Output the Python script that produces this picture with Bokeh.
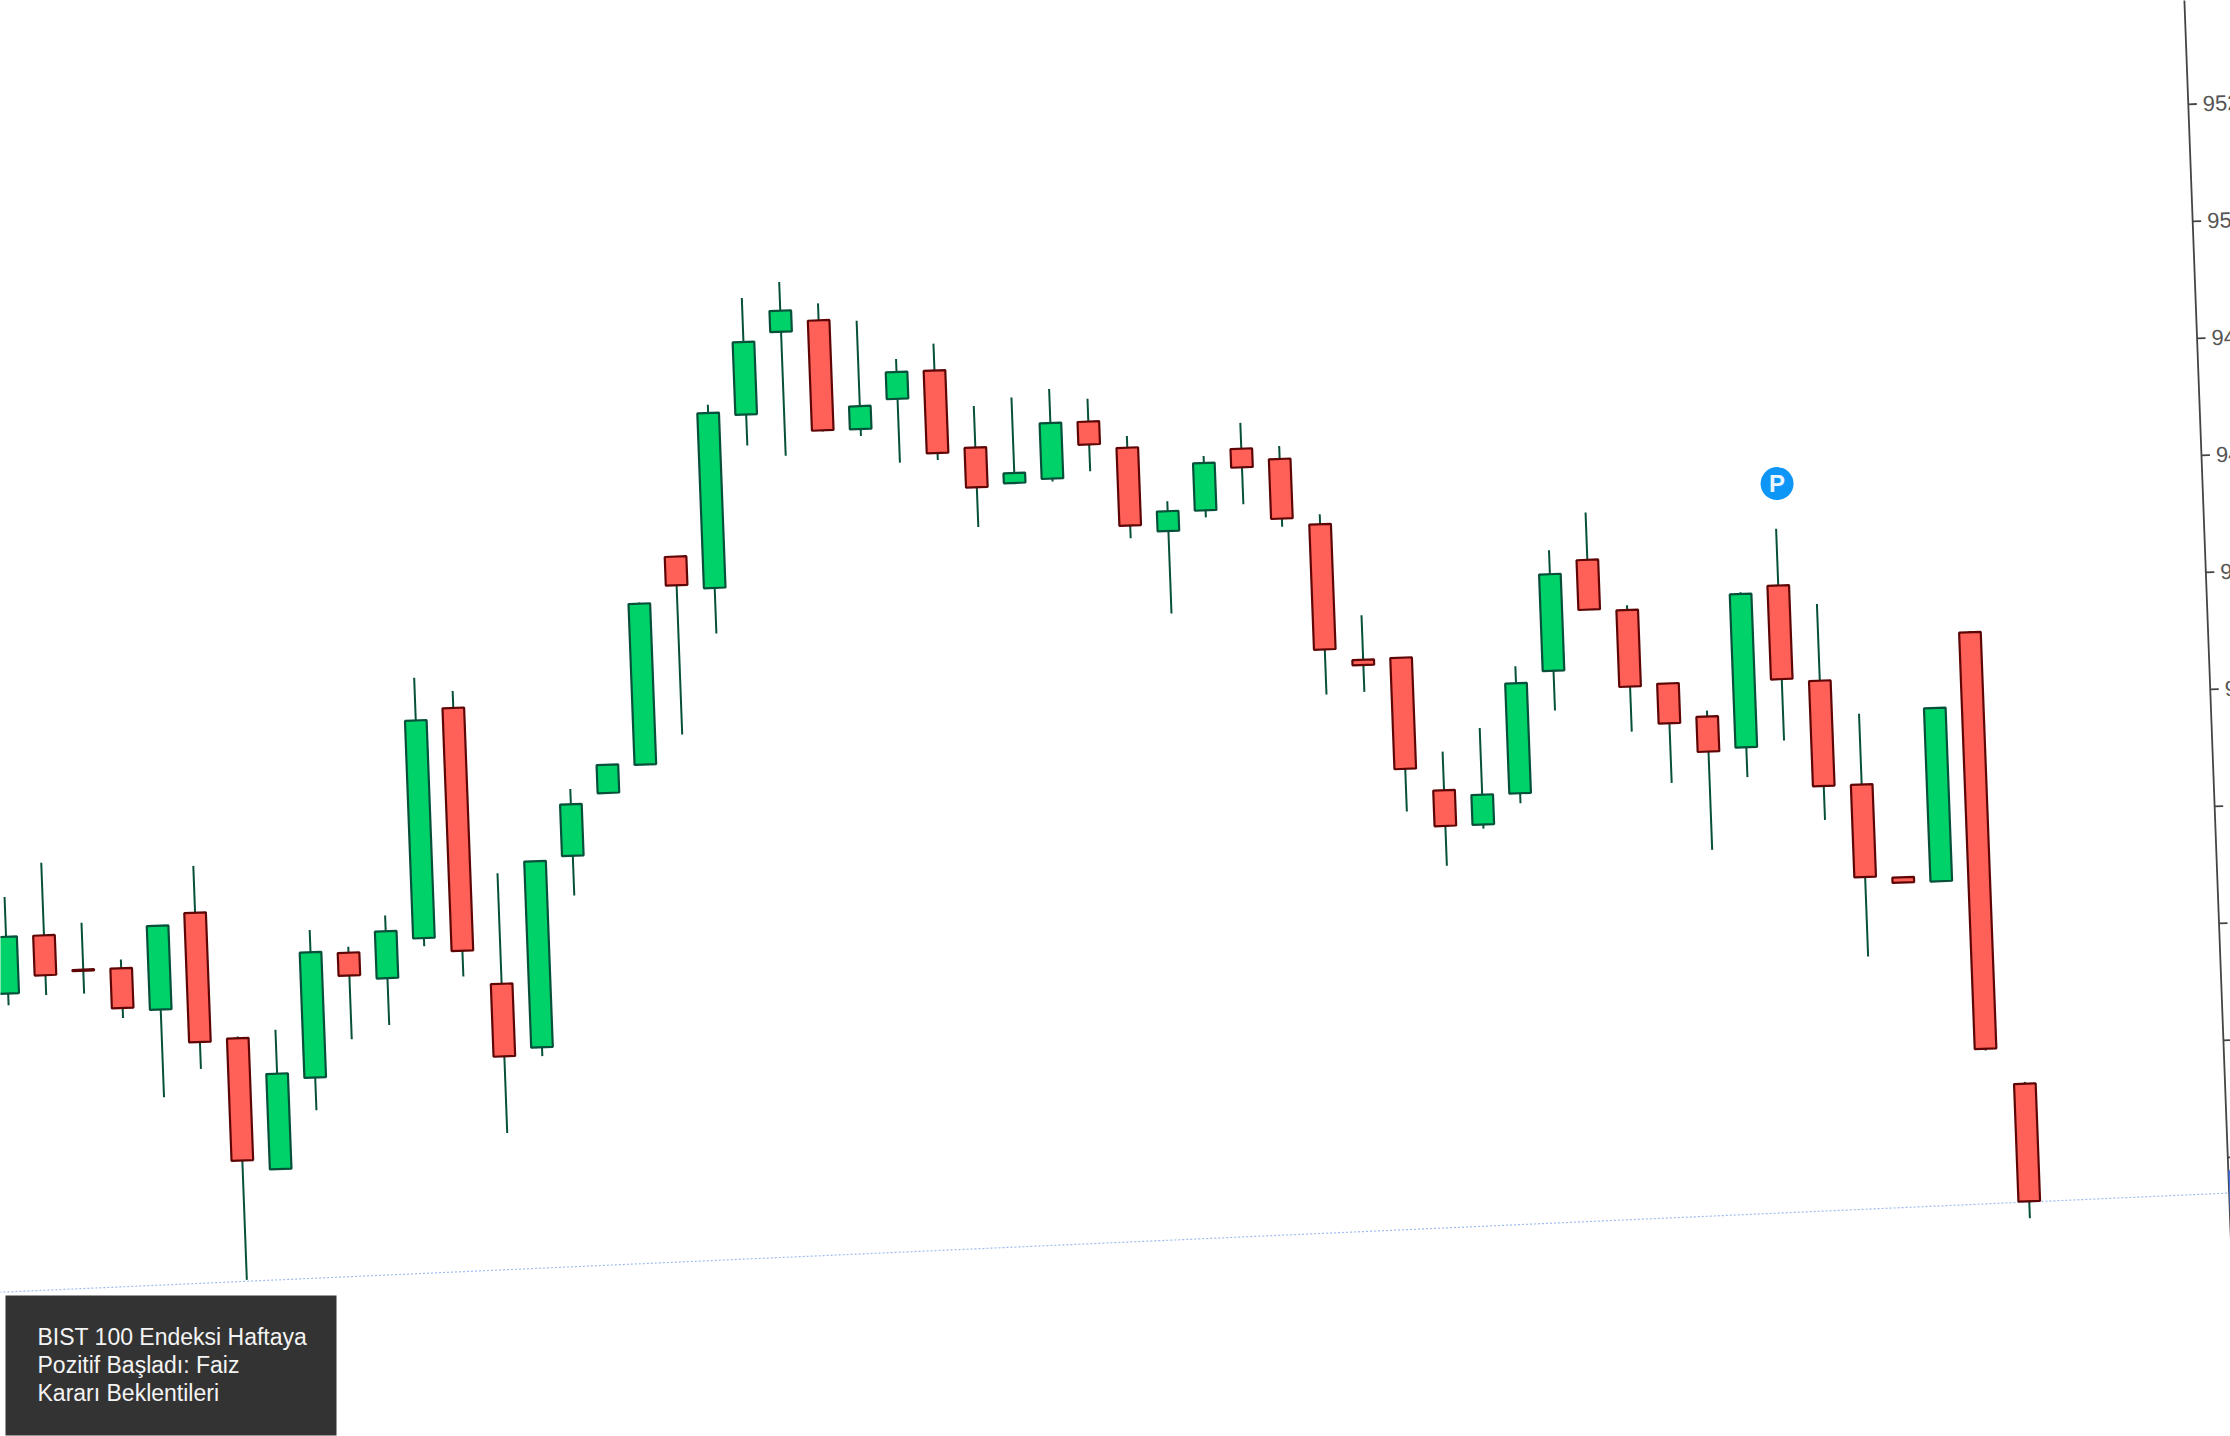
import math
from bokeh.core.properties import value
from bokeh.plotting import figure
from bokeh.models import Range1d, Label, BoxAnnotation
from bokeh.embed import file_html
from bokeh.resources import INLINE

# --- chart values (index points) ------------------------------------------
opens = [9382.2, 9391.9, 9385.8, 9385.8, 9378.5, 9394.8, 9373.1, 9350.5, 9365.9, 9387.0,
         9382.4, 9389.0, 9428.1, 9380.7, 9369.6, 9402.1, 9412.6, 9417.2, 9452.5, 9446.9,
         9476.3, 9490.2, 9491.9, 9473.1, 9478.0, 9482.6, 9469.2, 9462.9, 9463.4, 9472.9,
         9468.2, 9453.7, 9457.0, 9467.3, 9465.3, 9453.9, 9430.5, 9430.6, 9407.7, 9401.6,
         9406.7, 9427.4, 9446.1, 9437.3, 9424.5, 9418.6, 9413.1, 9440.5, 9424.0, 9406.0,
         9389.9, 9389.0, 9431.3, 9353.9]
highs = [9398.7, 9404.3, 9393.8, 9387.3, 9392.8, 9402.8, 9373.4, 9374.3, 9391.1, 9388.0,
         9393.1, 9433.5, 9431.0, 9399.6, 9401.4, 9413.5, 9417.4, 9444.9, 9452.5, 9478.2,
         9496.2, 9498.7, 9494.8, 9491.6, 9484.8, 9487.2, 9476.3, 9477.5, 9478.7, 9476.8,
         9470.2, 9458.8, 9466.3, 9471.7, 9467.5, 9455.6, 9438.1, 9430.6, 9414.3, 9418.1,
         9428.4, 9448.0, 9454.2, 9438.1, 9424.5, 9419.6, 9439.6, 9450.2, 9437.1, 9418.1,
         9389.9, 9418.6, 9431.5, 9354.2]
lows = [9380.2, 9381.7, 9381.7, 9377.3, 9363.5, 9368.1, 9331.8, 9350.5, 9360.3, 9372.2,
        9374.4, 9387.6, 9382.2, 9355.2, 9368.1, 9395.3, 9412.6, 9417.2, 9422.1, 9439.1,
        9471.0, 9469.0, 9472.9, 9471.9, 9467.1, 9467.3, 9455.6, 9462.7, 9462.9, 9464.4,
        9452.7, 9439.6, 9455.8, 9457.8, 9453.7, 9424.8, 9425.0, 9404.3, 9394.8, 9400.9,
        9405.0, 9420.6, 9437.6, 9416.5, 9407.5, 9395.8, 9408.0, 9414.0, 9400.2, 9376.6,
        9389.0, 9389.0, 9359.8, 9330.9]
closes = [9391.9, 9385.1, 9385.6, 9379.0, 9392.8, 9372.7, 9352.2, 9366.8, 9387.3, 9383.1,
          9390.4, 9426.2, 9386.6, 9368.3, 9401.4, 9410.9, 9417.4, 9444.7, 9447.6, 9476.8,
          9488.7, 9493.8, 9473.1, 9477.0, 9482.6, 9468.5, 9462.4, 9464.6, 9472.9, 9469.0,
          9454.9, 9457.1, 9465.1, 9464.1, 9455.1, 9432.5, 9429.6, 9411.6, 9401.6, 9406.7,
          9425.5, 9443.9, 9437.6, 9424.2, 9417.7, 9412.6, 9439.3, 9424.5, 9406.0, 9390.2,
          9389.0, 9418.6, 9360.1, 9333.8]
tick_values = [9520, 9500, 9480, 9460, 9440, 9420, 9400, 9380, 9360, 9340]
label_values = [9520, 9500, 9480, 9460, 9440, 9420, 9400]
tick_labels = ["9520", "9500", "9480", "9460", "9440", "9420", "9400"]
support_index = [-2, 60]
support_value = [9331.2, 9334.0]
tag_value = [9330.2, 9337.8]
marker_index = [47.07]
marker_value = [9457.9]
marker_text = ["P"]
note_lines = ["BIST 100 Endeksi Haftaya", "Pozitif Başladı: Faiz", "Kararı Beklentileri"]

# --- styles / layout -------------------------------------------------------
W, H = 2230, 1436
STEP, K = 37.96, 5.855     # px per bar, px per index point
SIN = 0.0375
COS = math.sqrt(1 - SIN ** 2)
ANGLE = math.asin(SIN)
V0 = 9520
AXIS_I = 58.27
GREEN, RED = "#00d26a", "#ff6058"
GREEN_EDGE, RED_EDGE = "#07503a", "#5e0606"
WICK = "#07503a"
BODY_W = 0.57


def tilt(i, v):
    """The whole chart sits rotated on the page by a small angle."""
    di, dv = i, v - V0
    return di * COS - dv * (K / STEP) * SIN, V0 + dv * COS + di * (STEP / K) * SIN


x0 = 0.595
y1 = 9551.9
p = figure(
    width=W, height=H, output_backend="svg", toolbar_location=None,
    x_range=Range1d(x0, x0 + W / STEP), y_range=Range1d(y1 - H / K, y1),
    min_border=0, background_fill_color="white", border_fill_color="white",
)
p.styles = {"position": "absolute", "left": "0", "top": "0"}
p.axis.visible = False
p.grid.visible = False
p.outline_line_color = None

# trend line
sx, sy = zip(*[tilt(i, v) for i, v in zip(support_index, support_value)])
p.line(list(sx), list(sy), line_color="#9dbcf0", line_width=1.2, line_dash=[2, 2])

# wicks
seg = [(tilt(i, h), tilt(i, l)) for i, (h, l) in enumerate(zip(highs, lows))]
p.segment([a[0] for a, b in seg], [a[1] for a, b in seg],
          [b[0] for a, b in seg], [b[1] for a, b in seg],
          line_color=WICK, line_width=2)

# bodies
xs, ys, fills, edges = [], [], [], []
for i, (o, c) in enumerate(zip(opens, closes)):
    corners = [tilt(i - BODY_W / 2, o), tilt(i + BODY_W / 2, o),
               tilt(i + BODY_W / 2, c), tilt(i - BODY_W / 2, c)]
    xs.append([q[0] for q in corners])
    ys.append([q[1] for q in corners])
    up = c >= o
    fills.append(GREEN if up else RED)
    edges.append(GREEN_EDGE if up else RED_EDGE)
p.patches(xs, ys, fill_color=fills, line_color=edges, line_width=2.2)

# price axis
ax = [tilt(AXIS_I, 9580), tilt(AXIS_I, 9326)]
p.line([q[0] for q in ax], [q[1] for q in ax], line_color="#444444", line_width=1.8)
t0 = [tilt(AXIS_I, v) for v in tick_values]
t1 = [tilt(AXIS_I + 8.5 / STEP, v) for v in tick_values]
p.segment([q[0] for q in t0], [q[1] for q in t0], [q[0] for q in t1], [q[1] for q in t1],
          line_color="#444444", line_width=1.8)
tl = [tilt(AXIS_I + 14.5 / STEP, v) for v in label_values]
p.text([q[0] for q in tl], [q[1] for q in tl], text=tick_labels, angle=ANGLE,
       text_font=value("Liberation Sans"), text_font_size="22px", text_color="#555555",
       text_align="left", text_baseline="middle")

# price tag on the axis
tag = [tilt(AXIS_I, tag_value[0]), tilt(AXIS_I + 1, tag_value[0]),
       tilt(AXIS_I + 1, tag_value[1]), tilt(AXIS_I, tag_value[1])]
p.patch([q[0] for q in tag], [q[1] for q in tag], fill_color="#3f6fe0", line_color=None)

# P marker
mk = [tilt(i, v) for i, v in zip(marker_index, marker_value)]
p.scatter([q[0] for q in mk], [q[1] for q in mk], marker="circle", size=33,
          fill_color="#0d96f6", line_color=None)
p.text([q[0] for q in mk], [q[1] for q in mk], text=marker_text,
       text_font=value("Liberation Sans"), text_font_style="bold", text_font_size="24px",
       text_color="#eaf6ff", text_align="center", text_baseline="middle")

# note box (not rotated)
p.add_layout(BoxAnnotation(left=5, right=336, top=H - 1295, bottom=H - 1435,
                           left_units="screen", right_units="screen",
                           top_units="screen", bottom_units="screen",
                           fill_color="#333333", fill_alpha=1, line_color=None))
for n, line in enumerate(note_lines):
    p.add_layout(Label(x=37, y=H - (1336 + 28.4 * n), x_units="screen", y_units="screen",
                       text=line, text_font="Liberation Sans", text_font_size="23px",
                       text_color="#f4f4f4", text_align="left", text_baseline="alphabetic"))

open("out.html", "w").write(file_html(p, INLINE))
